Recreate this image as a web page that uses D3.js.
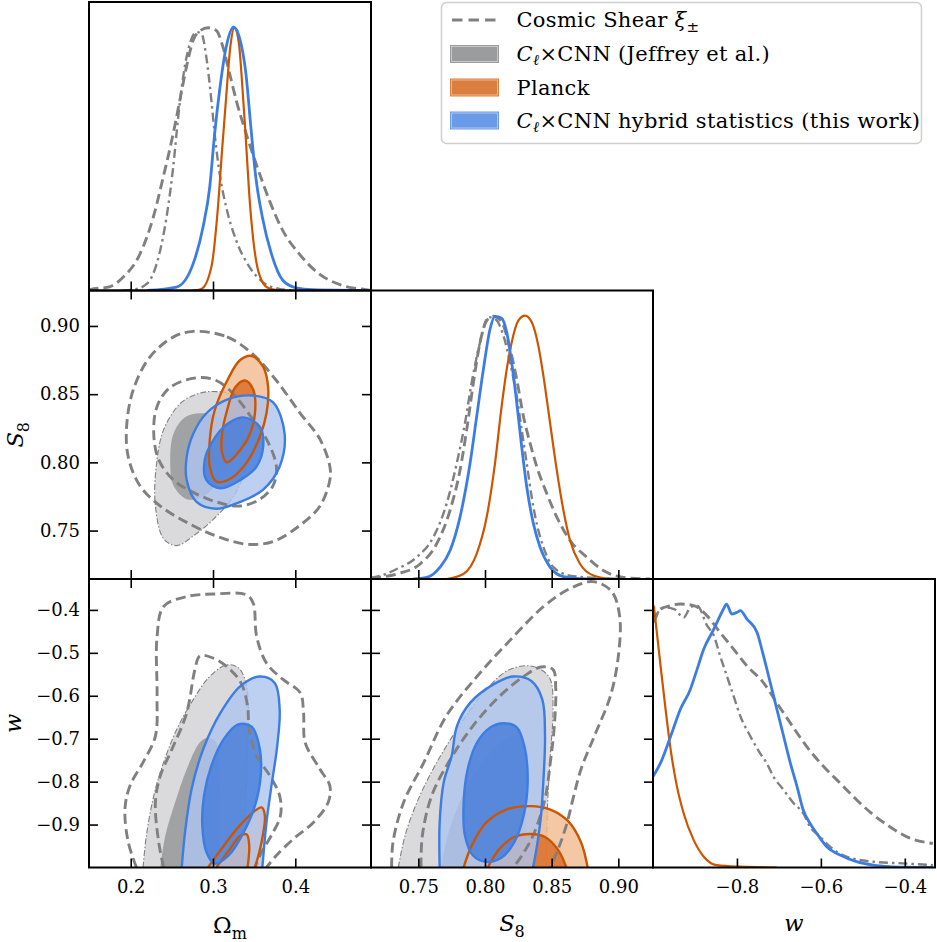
<!DOCTYPE html>
<html>

<head>
  <meta charset="utf-8">
  <title>Triangle plot</title>
  <style>
    body { margin: 0; background: #fff; }
    text { font-family: "DejaVu Serif", serif; fill: #000; }
  </style>
</head>

<body>
  <svg></svg>
  <script src="https://cdn.jsdelivr.net/npm/d3@7/dist/d3.min.js"></script>
  <script>
    // tick values
    const omTicks = [0.2, 0.3, 0.4];
    const s8Ticks = [0.75, 0.80, 0.85, 0.90];
    const wTicksY = [-0.4, -0.5, -0.6, -0.7, -0.8, -0.9];
    const wTicksX = [-0.8, -0.6, -0.4];

    // 1D marginals, [value, normalised density]
    const omCS = [[0.149, 0], [0.1508, 0.003], [0.175, 0.015], [0.191, 0.051], [0.2113, 0.139], [0.2274, 0.278], [0.2395, 0.43], [0.2516, 0.595], [0.2597, 0.722], [0.2677, 0.848], [0.2758, 0.949], [0.2839, 0.985], [0.294, 0.997], [0.304, 0.987], [0.3121, 0.924], [0.3202, 0.823], [0.3282, 0.722], [0.3403, 0.595], [0.3524, 0.481], [0.3685, 0.342], [0.3847, 0.228], [0.4048, 0.139], [0.429, 0.063], [0.4573, 0.019], [0.4855, 0.003], [0.492, 0]];
    const omJeffrey = [[0.19, 0], [0.2032, 0.003], [0.2194, 0.025], [0.2315, 0.101], [0.2435, 0.278], [0.2516, 0.468], [0.2577, 0.658], [0.2637, 0.81], [0.2718, 0.937], [0.2798, 0.981], [0.2859, 0.975], [0.2919, 0.886], [0.298, 0.722], [0.302, 0.595], [0.3081, 0.443], [0.3161, 0.316], [0.3282, 0.19], [0.3444, 0.089], [0.3605, 0.032], [0.3806, 0.006], [0.40, 0]];
    const omPlanck = [[0.275, 0], [0.2859, 0.006], [0.298, 0.089], [0.306, 0.316], [0.311, 0.532], [0.316, 0.734], [0.321, 0.924], [0.326, 0.997], [0.3315, 0.937], [0.336, 0.759], [0.340, 0.57], [0.344, 0.367], [0.349, 0.19], [0.356, 0.063], [0.3665, 0.01], [0.38, 0]];
    const omHybrid = [[0.22, 0], [0.2556, 0.013], [0.2758, 0.101], [0.2879, 0.241], [0.296, 0.392], [0.302, 0.595], [0.308, 0.759], [0.316, 0.924], [0.325, 1.0], [0.332, 0.962], [0.340, 0.823], [0.346, 0.62], [0.352, 0.43], [0.360, 0.278], [0.371, 0.139], [0.385, 0.038], [0.401, 0.01], [0.421, 0.003], [0.49, 0]];

    const s8CS = [[0.7145, 0.003], [0.7163, 0.004], [0.7338, 0.019], [0.7513, 0.057], [0.7638, 0.134], [0.7738, 0.261], [0.7813, 0.414], [0.7863, 0.567], [0.7913, 0.745], [0.7963, 0.898], [0.8013, 0.981], [0.8063, 0.997], [0.8125, 0.975], [0.8188, 0.873], [0.8238, 0.758], [0.8288, 0.618], [0.8338, 0.516], [0.8388, 0.427], [0.8463, 0.325], [0.8538, 0.236], [0.8638, 0.146], [0.8763, 0.083], [0.8888, 0.032], [0.9038, 0.006], [0.9238, 0]];
    const s8Jeffrey = [[0.7145, 0.005], [0.7163, 0.006], [0.7338, 0.038], [0.7488, 0.083], [0.7613, 0.159], [0.7713, 0.287], [0.7788, 0.439], [0.785, 0.592], [0.79, 0.745], [0.7963, 0.898], [0.8025, 0.994], [0.8075, 0.987], [0.8138, 0.924], [0.8188, 0.822], [0.8238, 0.694], [0.8275, 0.567], [0.8313, 0.439], [0.835, 0.312], [0.8388, 0.21], [0.8438, 0.121], [0.8513, 0.045], [0.8638, 0.013], [0.8838, 0.004], [0.9038, 0]];
    const s8Planck = [[0.7713, 0], [0.7838, 0.019], [0.7938, 0.096], [0.8013, 0.236], [0.8075, 0.439], [0.8125, 0.656], [0.8163, 0.796], [0.82, 0.898], [0.825, 0.981], [0.83, 1.0], [0.835, 0.975], [0.84, 0.885], [0.8438, 0.771], [0.8488, 0.592], [0.8538, 0.414], [0.8588, 0.261], [0.8638, 0.146], [0.8713, 0.057], [0.8813, 0.013], [0.8938, 0]];
    const s8Hybrid = [[0.7463, 0], [0.7563, 0.006], [0.7663, 0.045], [0.7738, 0.108], [0.7813, 0.236], [0.7888, 0.439], [0.7938, 0.618], [0.7988, 0.796], [0.8038, 0.949], [0.8075, 0.997], [0.8125, 0.99], [0.8163, 0.936], [0.82, 0.822], [0.8238, 0.669], [0.8275, 0.503], [0.8313, 0.35], [0.8363, 0.21], [0.8413, 0.121], [0.8488, 0.045], [0.8588, 0.009], [0.8763, 0]];

    const wCS = [[-0.998, 0.93], [-0.982, 0.981], [-0.958, 0.994], [-0.935, 1.0], [-0.903, 0.994], [-0.871, 0.955], [-0.84, 0.892], [-0.808, 0.829], [-0.776, 0.765], [-0.737, 0.702], [-0.705, 0.625], [-0.673, 0.549], [-0.634, 0.46], [-0.594, 0.384], [-0.554, 0.32], [-0.515, 0.257], [-0.475, 0.2], [-0.436, 0.155], [-0.396, 0.117], [-0.333, 0.091]];
    const wJeffrey = [[-0.998, 0.943], [-0.974, 0.987], [-0.95, 0.981], [-0.927, 0.949], [-0.911, 0.987], [-0.895, 0.994], [-0.871, 0.918], [-0.855, 0.88], [-0.84, 0.803], [-0.824, 0.727], [-0.808, 0.651], [-0.792, 0.575], [-0.768, 0.498], [-0.745, 0.434], [-0.729, 0.396], [-0.713, 0.345], [-0.689, 0.295], [-0.665, 0.244], [-0.642, 0.206], [-0.626, 0.155], [-0.602, 0.117], [-0.578, 0.079], [-0.539, 0.041], [-0.475, 0.022], [-0.396, 0.015], [-0.333, 0.009]];
    const wPlanck = [[-0.998, 0.994], [-0.99, 0.88], [-0.981, 0.752], [-0.97, 0.6], [-0.958, 0.448], [-0.943, 0.308], [-0.927, 0.206], [-0.903, 0.104], [-0.879, 0.041], [-0.848, 0.009], [-0.792, 0.003], [-0.705, 0]];
    const wHybrid = [[-0.9996, 0.346], [-0.982, 0.397], [-0.958, 0.498], [-0.935, 0.6], [-0.911, 0.676], [-0.895, 0.752], [-0.879, 0.829], [-0.855, 0.905], [-0.832, 0.981], [-0.825, 1.0], [-0.812, 0.962], [-0.8, 0.968], [-0.792, 0.975], [-0.776, 0.943], [-0.752, 0.892], [-0.737, 0.805], [-0.721, 0.704], [-0.705, 0.602], [-0.689, 0.5], [-0.673, 0.398], [-0.657, 0.309], [-0.642, 0.218], [-0.626, 0.168], [-0.61, 0.13], [-0.586, 0.079], [-0.554, 0.047], [-0.515, 0.022], [-0.475, 0.009], [-0.436, 0.003], [-0.396, 0.001], [-0.333, 0]];

    // 2D contours, Omega_m vs S8 (68% = 1, 95% = 2)
    const omS8_cs2 = [[0.276, 0.896], [0.317, 0.892], [0.349, 0.879], [0.377, 0.86], [0.406, 0.836], [0.43, 0.817], [0.442, 0.797], [0.442, 0.787], [0.43, 0.768], [0.406, 0.754], [0.373, 0.742], [0.341, 0.74], [0.304, 0.746], [0.268, 0.756], [0.236, 0.768], [0.211, 0.783], [0.197, 0.804], [0.195, 0.826], [0.203, 0.853], [0.223, 0.877], [0.252, 0.892]];
    const omS8_cs1 = [[0.28, 0.862], [0.304, 0.86], [0.325, 0.85], [0.349, 0.831], [0.365, 0.817], [0.377, 0.797], [0.373, 0.783], [0.357, 0.773], [0.333, 0.768], [0.304, 0.771], [0.276, 0.778], [0.252, 0.787], [0.234, 0.802], [0.228, 0.821], [0.232, 0.841], [0.248, 0.855]];
    const omS8_gray2 = [[0.3, 0.852], [0.325, 0.849], [0.343, 0.838], [0.349, 0.819], [0.341, 0.797], [0.325, 0.775], [0.3, 0.758], [0.276, 0.746], [0.256, 0.739], [0.24, 0.744], [0.23, 0.768], [0.231, 0.797], [0.24, 0.824], [0.26, 0.843], [0.28, 0.85]];
    const omS8_gray1 = [[0.284, 0.836], [0.308, 0.833], [0.321, 0.821], [0.321, 0.802], [0.308, 0.787], [0.288, 0.775], [0.268, 0.773], [0.252, 0.783], [0.248, 0.802], [0.252, 0.821], [0.266, 0.833]];
    const omS8_orange2 = [[0.347, 0.878], [0.361, 0.87], [0.367, 0.855], [0.365, 0.836], [0.357, 0.819], [0.341, 0.8], [0.321, 0.788], [0.304, 0.786], [0.296, 0.797], [0.296, 0.816], [0.302, 0.838], [0.319, 0.862], [0.333, 0.875]];
    const omS8_orange1 = [[0.339, 0.86], [0.349, 0.853], [0.351, 0.836], [0.345, 0.821], [0.333, 0.809], [0.317, 0.8], [0.311, 0.807], [0.311, 0.821], [0.317, 0.838], [0.327, 0.855]];
    const omS8_blue2 = [[0.349, 0.849], [0.373, 0.844], [0.387, 0.821], [0.381, 0.797], [0.361, 0.78], [0.333, 0.771], [0.304, 0.766], [0.28, 0.771], [0.268, 0.787], [0.268, 0.804], [0.276, 0.821], [0.292, 0.836], [0.317, 0.846]];
    const omS8_blue1 = [[0.337, 0.833], [0.357, 0.826], [0.361, 0.812], [0.353, 0.797], [0.333, 0.787], [0.309, 0.781], [0.292, 0.787], [0.29, 0.802], [0.3, 0.816], [0.317, 0.828]];

    // Omega_m vs w
    const omW_cs2 = [[0.207, -1.0], [0.197, -0.941], [0.193, -0.864], [0.199, -0.81], [0.215, -0.755], [0.23, -0.694], [0.232, -0.601], [0.232, -0.462], [0.24, -0.392], [0.268, -0.369], [0.3, -0.363], [0.341, -0.365], [0.349, -0.385], [0.353, -0.462], [0.365, -0.524], [0.385, -0.562], [0.406, -0.593], [0.41, -0.64], [0.412, -0.709], [0.43, -0.771], [0.442, -0.81], [0.44, -0.848], [0.422, -0.895], [0.398, -0.933], [0.377, -0.972], [0.365, -1.0]];
    const omW_cs1 = [[0.24, -1.0], [0.234, -0.941], [0.23, -0.848], [0.236, -0.786], [0.25, -0.725], [0.268, -0.64], [0.278, -0.539], [0.284, -0.507], [0.3, -0.512], [0.321, -0.539], [0.335, -0.574], [0.342, -0.624], [0.344, -0.678], [0.353, -0.74], [0.369, -0.786], [0.381, -0.833], [0.382, -0.879], [0.371, -0.925], [0.359, -0.964], [0.351, -1.0]];
    const omW_gray2 = [[0.215, -1.0], [0.219, -0.926], [0.228, -0.833], [0.24, -0.755], [0.256, -0.678], [0.276, -0.609], [0.296, -0.555], [0.317, -0.528], [0.331, -0.535], [0.34, -0.57], [0.343, -0.64], [0.342, -0.725], [0.34, -0.833], [0.339, -0.926], [0.337, -1.0]];
    const omW_gray1 = [[0.236, -1.0], [0.242, -0.926], [0.254, -0.848], [0.268, -0.771], [0.284, -0.709], [0.294, -0.698], [0.304, -0.709], [0.308, -0.786], [0.308, -0.886], [0.308, -1.0]];
    const omW_orange2 = [[0.294, -1.0], [0.309, -0.96], [0.329, -0.91], [0.349, -0.871], [0.359, -0.86], [0.363, -0.879], [0.359, -0.941], [0.351, -1.0]];
    const omW_orange1 = [[0.304, -1.0], [0.321, -0.956], [0.333, -0.926], [0.341, -0.923], [0.344, -0.949], [0.342, -1.0]];
    const omW_blue2 = [[0.262, -1.0], [0.266, -0.918], [0.274, -0.817], [0.288, -0.725], [0.309, -0.64], [0.333, -0.578], [0.357, -0.555], [0.375, -0.57], [0.381, -0.632], [0.378, -0.717], [0.371, -0.81], [0.365, -0.895], [0.36, -1.0]];
    const omW_blue1 = [[0.302, -0.991], [0.292, -0.964], [0.287, -0.902], [0.289, -0.833], [0.298, -0.763], [0.313, -0.701], [0.33, -0.667], [0.347, -0.672], [0.357, -0.725], [0.358, -0.786], [0.351, -0.856], [0.335, -0.926], [0.319, -0.972]];

    // S8 vs w
    const s8W_cs2 = [[0.73, -1.0], [0.731, -0.941], [0.739, -0.848], [0.754, -0.756], [0.771, -0.647], [0.794, -0.555], [0.819, -0.47], [0.844, -0.392], [0.864, -0.35], [0.881, -0.334], [0.895, -0.357], [0.901, -0.415], [0.9, -0.508], [0.894, -0.601], [0.882, -0.694], [0.872, -0.771], [0.866, -0.84], [0.861, -0.902], [0.855, -0.956], [0.849, -1.0]];
    const s8W_cs1 = [[0.752, -1.0], [0.753, -0.926], [0.76, -0.833], [0.774, -0.748], [0.791, -0.67], [0.811, -0.601], [0.829, -0.555], [0.842, -0.533], [0.851, -0.539], [0.853, -0.578], [0.852, -0.67], [0.849, -0.755], [0.845, -0.84], [0.836, -0.926], [0.826, -0.98], [0.821, -1.0]];
    const s8W_gray2 = [[0.735, -1.0], [0.74, -0.926], [0.749, -0.848], [0.761, -0.771], [0.779, -0.678], [0.799, -0.593], [0.816, -0.543], [0.831, -0.53], [0.842, -0.539], [0.849, -0.562], [0.851, -0.632], [0.849, -0.74], [0.847, -0.848], [0.846, -1.0]];
    const s8W_gray1 = [[0.767, -1.0], [0.772, -0.926], [0.781, -0.848], [0.794, -0.771], [0.809, -0.717], [0.821, -0.694], [0.83, -0.709], [0.832, -0.786], [0.831, -0.895], [0.829, -1.0]];
    const s8W_orange2 = [[0.784, -1.0], [0.79, -0.949], [0.801, -0.895], [0.816, -0.865], [0.834, -0.857], [0.849, -0.865], [0.862, -0.891], [0.872, -0.941], [0.877, -1.0]];
    const s8W_orange1 = [[0.802, -1.0], [0.811, -0.956], [0.822, -0.929], [0.834, -0.922], [0.845, -0.929], [0.855, -0.96], [0.861, -1.0]];
    const s8W_blue2 = [[0.766, -1.0], [0.766, -0.895], [0.769, -0.802], [0.775, -0.74], [0.779, -0.67], [0.789, -0.616], [0.806, -0.574], [0.821, -0.555], [0.835, -0.566], [0.843, -0.609], [0.845, -0.694], [0.844, -0.786], [0.842, -0.879], [0.839, -0.949], [0.836, -1.0]];
    const s8W_blue1 = [[0.801, -0.987], [0.791, -0.972], [0.785, -0.926], [0.784, -0.848], [0.787, -0.771], [0.794, -0.709], [0.804, -0.674], [0.814, -0.664], [0.824, -0.674], [0.83, -0.725], [0.832, -0.802], [0.829, -0.879], [0.822, -0.941], [0.812, -0.978]];

    const legendLabels = ["Cosmic Shear", "×CNN (Jeffrey et al.)", "Planck", "×CNN hybrid statistics (this work)"];

    // ---- layout ----
    const width = 937, height = 942;
    const marginLeft = 89, marginTop = 2, colW = 282, rowH = 288.5;
    const colX = [0, 1, 2].map(i => marginLeft + i * colW);
    const rowY = [0, 1, 2].map(i => marginTop + i * rowH);

    const gray = "#808080";
    const orange = "#cc5500";
    const blue = "#3b7de3";
    const dashed = "10,5";
    const dashDot = "9,4,2.5,4";

    const xOm = d3.scaleLinear([0.1493, 0.492], [colX[0], colX[0] + colW]);
    const xS8 = d3.scaleLinear([0.7145, 0.926], [colX[1], colX[1] + colW]);
    const xW = d3.scaleLinear([-1.0, -0.328], [colX[2], colX[2] + colW]);
    const yS8 = d3.scaleLinear([0.7145, 0.926], [rowY[1] + rowH, rowY[1]]);
    const yW = d3.scaleLinear([-1.0, -0.328], [rowY[2] + rowH, rowY[2]]);
    const yP = r => d3.scaleLinear([0, 1.095], [rowY[r] + rowH, rowY[r]]);

    const svg = d3.select("svg")
      .attr("width", width)
      .attr("height", height)
      .attr("viewBox", [0, 0, width, height]);

    const defs = svg.append("defs");
    function clipFor(id, c, r) {
      defs.append("clipPath").attr("id", id)
        .append("rect")
        .attr("x", colX[c]).attr("y", rowY[r])
        .attr("width", colW).attr("height", rowH);
      return `url(#${id})`;
    }

    // 1D panels
    function marginal(c, r, x, curves) {
      const y = yP(r);
      const g = svg.append("g").attr("clip-path", clipFor(`c${c}${r}`, c, r));
      const line = d3.line().x(d => x(d[0])).y(d => y(d[1])).curve(d3.curveMonotoneX);
      curves.forEach(([data, color, w, dash]) => {
        g.append("path")
          .attr("d", line(data))
          .attr("fill", "none")
          .attr("stroke", color)
          .attr("stroke-width", w)
          .attr("stroke-dasharray", dash)
          .attr("stroke-linejoin", "round");
      });
    }

    marginal(0, 0, xOm, [
      [omCS, gray, 2.9, dashed],
      [omJeffrey, gray, 2.4, dashDot],
      [omPlanck, orange, 2.2, null],
      [omHybrid, blue, 2.8, null]
    ]);
    marginal(1, 1, xS8, [
      [s8CS, gray, 2.9, dashed],
      [s8Jeffrey, gray, 2.4, dashDot],
      [s8Planck, orange, 2.2, null],
      [s8Hybrid, blue, 2.8, null]
    ]);
    marginal(2, 2, xW, [
      [wCS, gray, 2.9, dashed],
      [wJeffrey, gray, 2.4, dashDot],
      [wPlanck, orange, 2.2, null],
      [wHybrid, blue, 2.8, null]
    ]);

    // 2D panels
    function contourPanel(c, r, x, y, sets) {
      const g = svg.append("g").attr("clip-path", clipFor(`c${c}${r}`, c, r));
      const path = (data, closed) => d3.line()
        .x(d => x(d[0])).y(d => y(d[1]))
        .curve(closed ? d3.curveCatmullRomClosed.alpha(0.5) : d3.curveCatmullRom.alpha(0.5))(data);

      // Jeffrey et al. filled
      g.append("path").attr("d", path(sets.gray2, sets.closed.gray2)).attr("fill", "#d1d1d4").attr("fill-opacity", 0.8);
      g.append("path").attr("d", path(sets.gray1, sets.closed.gray1)).attr("fill", "#919496").attr("fill-opacity", 0.8);
      g.append("path").attr("d", path(sets.gray2, sets.closed.gray2))
        .attr("fill", "none").attr("stroke", gray).attr("stroke-width", 1.1)
        .attr("stroke-dasharray", "6,2,1.5,2");

      // Planck filled
      g.append("path").attr("d", path(sets.orange2, sets.closed.orange2)).attr("fill", "#f2ba8e").attr("fill-opacity", 0.8);
      g.append("path").attr("d", path(sets.orange1, sets.closed.orange1)).attr("fill", "#d86a24").attr("fill-opacity", 0.8);

      // hybrid filled
      g.append("path").attr("d", path(sets.blue2, sets.closed.blue2)).attr("fill", "#aec4ef").attr("fill-opacity", 0.8);
      g.append("path").attr("d", path(sets.blue1, sets.closed.blue1)).attr("fill", "#437bd9").attr("fill-opacity", 0.8);

      // cosmic shear lines
      [sets.cs2, sets.cs1].forEach((d, i) => {
        g.append("path").attr("d", path(d, i === 0 ? sets.closed.cs2 : sets.closed.cs1))
          .attr("fill", "none").attr("stroke", gray).attr("stroke-width", 2.9)
          .attr("stroke-dasharray", dashed);
      });

      [["orange2", orange], ["orange1", orange], ["blue2", blue], ["blue1", blue]].forEach(([k, col]) => {
        g.append("path").attr("d", path(sets[k], sets.closed[k]))
          .attr("fill", "none").attr("stroke", col).attr("stroke-width", 2.4);
      });
    }

    const allClosed = { cs2: true, cs1: true, gray2: true, gray1: true, orange2: true, orange1: true, blue2: true, blue1: true };
    const bottomCut = { cs2: false, cs1: false, gray2: false, gray1: false, orange2: false, orange1: false, blue2: false, blue1: true };

    contourPanel(0, 1, xOm, yS8, {
      cs2: omS8_cs2, cs1: omS8_cs1, gray2: omS8_gray2, gray1: omS8_gray1,
      orange2: omS8_orange2, orange1: omS8_orange1, blue2: omS8_blue2, blue1: omS8_blue1, closed: allClosed
    });
    contourPanel(0, 2, xOm, yW, {
      cs2: omW_cs2, cs1: omW_cs1, gray2: omW_gray2, gray1: omW_gray1,
      orange2: omW_orange2, orange1: omW_orange1, blue2: omW_blue2, blue1: omW_blue1, closed: bottomCut
    });
    contourPanel(1, 2, xS8, yW, {
      cs2: s8W_cs2, cs1: s8W_cs1, gray2: s8W_gray2, gray1: s8W_gray1,
      orange2: s8W_orange2, orange1: s8W_orange1, blue2: s8W_blue2, blue1: s8W_blue1, closed: bottomCut
    });

    // ---- frames and ticks ----
    const tickLen = 9;
    function frame(c, r) {
      svg.append("rect")
        .attr("x", colX[c]).attr("y", rowY[r])
        .attr("width", colW).attr("height", rowH)
        .attr("fill", "none").attr("stroke", "#000").attr("stroke-width", 2);
    }
    function styleAxis(g, showLabels) {
      g.select(".domain").remove();
      g.selectAll(".tick line").attr("stroke", "#000").attr("stroke-width", 1.6);
      g.selectAll(".tick text").attr("font-size", 18).attr("font-family", "DejaVu Serif");
      if (!showLabels) g.selectAll(".tick text").remove();
    }
    const panels = [
      { c: 0, r: 0, x: xOm, xt: omTicks, xf: ".1f" },
      { c: 1, r: 1, x: xS8, xt: s8Ticks, xf: ".2f" },
      { c: 2, r: 2, x: xW, xt: wTicksX, xf: ".1f" },
      { c: 0, r: 1, x: xOm, xt: omTicks, xf: ".1f", y: yS8, yt: s8Ticks, yf: ".2f" },
      { c: 0, r: 2, x: xOm, xt: omTicks, xf: ".1f", y: yW, yt: wTicksY, yf: ".1f" },
      { c: 1, r: 2, x: xS8, xt: s8Ticks, xf: ".2f", y: yW, yt: wTicksY, yf: ".1f" }
    ];
    panels.forEach(p => {
      const x0 = colX[p.c], y0 = rowY[p.r];
      const bottomLabels = p.r === 2;
      svg.append("g").attr("transform", `translate(0,${y0 + rowH})`)
        .call(d3.axisBottom(p.x).tickValues(p.xt).tickFormat(d3.format(p.xf)).tickSize(-tickLen).tickPadding(13))
        .call(g => styleAxis(g, bottomLabels));
      if (p.y) {
        svg.append("g").attr("transform", `translate(0,${y0})`)
          .call(d3.axisTop(p.x).tickValues(p.xt).tickSize(-tickLen))
          .call(g => styleAxis(g, false));
        svg.append("g").attr("transform", `translate(${x0},0)`)
          .call(d3.axisLeft(p.y).tickValues(p.yt).tickFormat(d3.format(p.yf)).tickSize(-tickLen).tickPadding(9))
          .call(g => styleAxis(g, p.c === 0));
        svg.append("g").attr("transform", `translate(${x0 + colW},0)`)
          .call(d3.axisRight(p.y).tickValues(p.yt).tickSize(-tickLen))
          .call(g => styleAxis(g, false));
      }
      frame(p.c, p.r);
    });

    // ---- axis labels ----
    const labelSize = 22.5;
    function s8Label(sel) {
      sel.append("tspan").attr("font-style", "italic").text("S");
      sel.append("tspan").attr("font-size", 16).attr("dy", 6).text("8");
    }
    svg.append("text")
      .attr("x", (colX[0] + colX[1]) / 2).attr("y", 933)
      .attr("text-anchor", "middle").attr("font-size", labelSize)
      .call(t => {
        t.append("tspan").text("Ω");
        t.append("tspan").attr("font-size", 16).attr("dy", 6).text("m");
      });
    svg.append("text")
      .attr("x", (colX[1] + colX[2]) / 2).attr("y", 931)
      .attr("text-anchor", "middle").attr("font-size", labelSize)
      .call(s8Label);
    svg.append("text")
      .attr("x", (colX[2] + colX[2] + colW) / 2).attr("y", 931)
      .attr("text-anchor", "middle").attr("font-size", labelSize).attr("font-style", "italic")
      .text("w");
    svg.append("text")
      .attr("transform", `translate(23,${rowY[1] + rowH / 2}) rotate(-90)`)
      .attr("text-anchor", "middle").attr("font-size", labelSize)
      .call(s8Label);
    svg.append("text")
      .attr("transform", `translate(21,${rowY[2] + rowH / 2}) rotate(-90)`)
      .attr("text-anchor", "middle").attr("font-size", labelSize).attr("font-style", "italic")
      .text("w");

    // ---- legend ----
    const lg = svg.append("g");
    lg.append("rect")
      .attr("x", 441.5).attr("y", 2.5).attr("width", 480).attr("height", 141).attr("rx", 5)
      .attr("fill", "#fff").attr("fill-opacity", 0.85)
      .attr("stroke", "#cfcfcf").attr("stroke-width", 1.5);
    const rowsY = [20, 54, 87.5, 120.5];
    const hx = 450, hw = 49, tx = 516.5;
    lg.append("line")
      .attr("x1", hx + 2).attr("x2", hx + hw).attr("y1", rowsY[0]).attr("y2", rowsY[0])
      .attr("stroke", gray).attr("stroke-width", 2.9).attr("stroke-dasharray", "10.5,6");
    [["#9a9c9e", 1], ["#db7f3f", 2], ["#6a9be8", 3]].forEach(([col, i]) => {
      lg.append("rect").attr("x", hx).attr("y", rowsY[i] - 9).attr("width", hw).attr("height", 18).attr("fill", col);
      lg.append("rect").attr("x", hx + 1.5).attr("y", rowsY[i] - 7.5).attr("width", hw - 3).attr("height", 15)
        .attr("fill", "none").attr("stroke", "#fff").attr("stroke-opacity", 0.55).attr("stroke-width", 0.8);
    });
    const legendText = i => lg.append("text").attr("x", tx).attr("y", rowsY[i] + 7)
      .attr("font-size", 21).attr("letter-spacing", 0.3);
    legendText(0).call(t => {
      t.append("tspan").text(legendLabels[0] + " ");
      t.append("tspan").attr("font-style", "italic").text("ξ");
      t.append("tspan").attr("font-size", 15).attr("dy", 5).text("±");
    });
    [1, 3].forEach(i => legendText(i).call(t => {
      t.append("tspan").attr("font-style", "italic").text("C");
      t.append("tspan").attr("font-size", 15).attr("dy", 4).attr("font-style", "italic").text("ℓ");
      t.append("tspan").attr("dy", -4).text(legendLabels[i]);
    }));
    legendText(2).text(legendLabels[2]);
  </script>
</body>

</html>
